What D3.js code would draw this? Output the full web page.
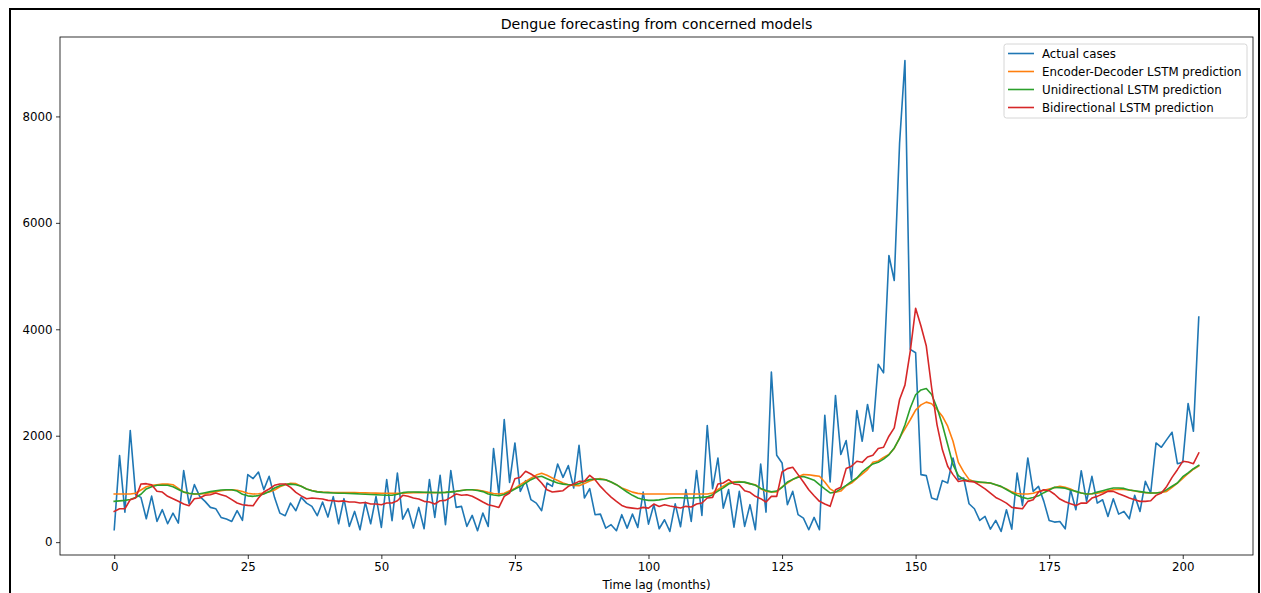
<!DOCTYPE html>
<html>
<head>
<meta charset="utf-8">
<script src="https://cdn.jsdelivr.net/npm/d3@7"></script>
<style>
  body { margin: 0; background: #fff; }
  svg { display: block; font-family: "DejaVu Sans", sans-serif; }
</style>
</head>
<body>
<svg id="chart" width="1261" height="593"></svg>
<script>
// Monthly dengue cases and the three model forecasts (index = time lag in months)
const actualCases = [
  233, 1627, 565, 2098, 892, 842, 440, 866, 390, 610,
  346, 546, 358, 1344, 723, 1081, 860, 766, 653, 629,
  465, 433, 390, 591, 408, 1269, 1194, 1318, 987, 1237,
  842, 546, 497, 734, 591, 842, 734, 672, 497, 753,
  471, 855, 346, 817, 296, 578, 233, 747, 346, 860,
  277, 1175, 403, 1300, 433, 629, 264, 653, 252, 1175,
  465, 1256, 328, 1344, 653, 672, 296, 503, 215, 546,
  296, 1758, 892, 2304, 1124, 1864, 955, 1156, 798, 734,
  591, 1111, 1049, 1469, 1218, 1439, 1017, 1821, 829, 1005,
  516, 527, 264, 328, 215, 516, 264, 527, 277, 942,
  339, 704, 252, 421, 201, 720, 290, 987, 390, 1344,
  503, 2192, 1005, 1582, 640, 988, 282, 955, 296, 704,
  233, 1469, 565, 3196, 1633, 1488, 704, 955, 516, 452,
  233, 465, 233, 2386, 1130, 2757, 1646, 1909, 1175, 2474,
  1896, 2587, 2084, 3340, 3182, 5386, 4916, 7500, 9050, 3623,
  3560, 1269, 1250, 829, 798, 1156, 1111, 1582, 1180, 1205,
  722, 628, 408, 483, 245, 408, 201, 609, 245, 1299,
  690, 1582, 954, 1048, 766, 408, 377, 389, 251, 986,
  609, 1343, 766, 1237, 734, 797, 483, 816, 527, 577,
  439, 879, 577, 1142, 923, 1864, 1783, 1927, 2065, 1475,
  1500, 2605, 2084, 4231
];

const encoderDecoderPred = [
  905, 905, 905, 905, 920, 980, 1040, 1070, 1080, 1090,
  1093, 1080, 1010, 940, 915, 905, 905, 910, 930, 950,
  965, 980, 986, 975, 950, 920, 905, 910, 925, 942,
  980, 1040, 1080, 1105, 1100, 1050, 1000, 970, 950, 940,
  936, 932, 930, 930, 930, 930, 928, 926, 924, 922,
  920, 918, 917, 917, 920, 925, 930, 930, 930, 930,
  930, 932, 935, 945, 955, 970, 986, 986, 980, 960,
  935, 915, 905, 920, 965, 1010, 1080, 1140, 1200, 1260,
  1295, 1256, 1205, 1160, 1111, 1080, 1065, 1061, 1100, 1150,
  1180, 1193, 1170, 1130, 1080, 1020, 980, 940, 917, 904,
  904, 904, 904, 904, 904, 904, 904, 904, 904, 904,
  904, 904, 924, 990, 1050, 1112, 1135, 1140, 1120, 1095,
  1080, 1005, 955, 945, 942, 1040, 1110, 1175, 1230, 1270,
  1265, 1250, 1237, 1130, 1000, 940, 960, 1060, 1110, 1200,
  1280, 1363, 1500, 1525, 1590, 1650, 1760, 1960, 2130, 2300,
  2480, 2580, 2631, 2600, 2493, 2367, 2179, 1897, 1500, 1320,
  1180, 1135, 1124, 1118, 1110, 1080, 1040, 1000, 945, 915,
  904, 904, 920, 950, 975, 1000, 1025, 1048, 1030, 1000,
  950, 925, 904, 910, 920, 940, 967, 985, 995, 990,
  980, 960, 942, 930, 923, 923, 935, 954, 1030, 1111,
  1200, 1290, 1370, 1430
];

const unidirectionalPred = [
  767, 775, 785, 800, 840, 900, 1000, 1040, 1068, 1070,
  1068, 1040, 990, 942, 920, 905, 910, 930, 950, 965,
  980, 986, 986, 960, 900, 870, 861, 875, 905, 950,
  1018, 1060, 1085, 1090, 1080, 1050, 1000, 965, 945, 935,
  930, 925, 920, 918, 915, 912, 905, 900, 895, 890,
  885, 880, 880, 900, 930, 942, 942, 940, 938, 935,
  932, 930, 935, 945, 955, 970, 986, 986, 970, 950,
  905, 885, 873, 895, 942, 1000, 1048, 1110, 1174, 1220,
  1237, 1193, 1150, 1111, 1090, 1080, 1080, 1100, 1142, 1175,
  1186, 1180, 1174, 1130, 1080, 1010, 942, 880, 829, 800,
  785, 785, 795, 810, 829, 835, 835, 830, 829, 835,
  842, 850, 892, 960, 1020, 1093, 1120, 1131, 1128, 1100,
  1068, 1010, 970, 945, 960, 1030, 1130, 1180, 1218, 1235,
  1200, 1165, 1080, 1000, 924, 940, 1000, 1068, 1140, 1206,
  1320, 1400, 1470, 1500, 1560, 1640, 1770, 1950, 2200, 2520,
  2770, 2860, 2888, 2775, 2524, 2210, 1834, 1457, 1250, 1180,
  1150, 1142, 1130, 1120, 1111, 1080, 1048, 990, 930, 880,
  841, 816, 840, 870, 930, 980, 1030, 1025, 1015, 980,
  954, 925, 905, 910, 940, 967, 995, 1017, 1017, 1010,
  980, 967, 950, 935, 925, 923, 935, 986, 1050, 1111,
  1230, 1300, 1380, 1444
];

const bidirectionalPred = [
  578, 628, 628, 798, 829, 1093, 1099, 1080, 955, 942,
  861, 817, 767, 716, 685, 817, 829, 880, 892, 924,
  892, 861, 798, 735, 704, 691, 685, 829, 942, 999,
  1068, 1093, 1093, 1030, 936, 870, 817, 829, 820, 810,
  785, 779, 767, 775, 754, 754, 735, 745, 716, 716,
  704, 735, 735, 779, 880, 861, 829, 810, 767, 754,
  716, 779, 785, 842, 905, 880, 892, 861, 810, 754,
  704, 680, 653, 860, 923, 1193, 1218, 1331, 1281, 1218,
  1111, 986, 942, 954, 967, 1048, 1092, 1142, 1142, 1256,
  1174, 1048, 942, 847, 766, 691, 653, 640, 628, 653,
  640, 716, 671, 703, 680, 660, 641, 673, 660, 716,
  735, 829, 842, 1093, 1112, 1175, 1093, 1080, 967, 936,
  861, 817, 754, 861, 861, 1319, 1382, 1407, 1269, 1131,
  986, 873, 767, 716, 673, 986, 1030, 1382, 1426, 1520,
  1500, 1600, 1633, 1758, 1783, 1991, 2148, 2681, 2951, 3591,
  4395, 4062, 3685, 2901, 2210, 1740, 1426, 1269, 1140, 1160,
  1142, 1130, 1067, 1000, 920, 840, 790, 734, 653, 640,
  628, 766, 797, 942, 986, 967, 900, 810, 760, 720,
  690, 734, 734, 828, 860, 904, 954, 954, 910, 870,
  830, 797, 766, 766, 778, 879, 923, 1048, 1218, 1362,
  1519, 1506, 1475, 1676
];

const seriesNames = [
  "Actual cases",
  "Encoder-Decoder LSTM prediction",
  "Unidirectional LSTM prediction",
  "Bidirectional LSTM prediction"
];
const seriesColors = ["#1f77b4", "#ff7f0e", "#2ca02c", "#d62728"];
const xTickValues = [0, 25, 50, 75, 100, 125, 150, 175, 200];
const yTickValues = [0, 2000, 4000, 6000, 8000];

const seriesData = [actualCases, encoderDecoderPred, unidirectionalPred, bidirectionalPred];

const svg = d3.select("#chart");
const plot = { left: 60, right: 1253, top: 37, bottom: 555 };
const labelSize = "11.8px";
const titleSize = "14.2px";

// outer figure frame
svg.append("rect")
  .attr("x", 10).attr("y", 9)
  .attr("width", 1249).attr("height", 640)
  .attr("fill", "none").attr("stroke", "#000").attr("stroke-width", 2);

// scales with 5% padding around the data range
const n = actualCases.length;
const xPad = (n - 1) * 0.05;
const x = d3.scaleLinear().domain([-xPad, n - 1 + xPad]).range([plot.left, plot.right]);
const allValues = [].concat(...seriesData);
const [lo, hi] = d3.extent(allValues);
const yPad = (hi - lo) * 0.05;
const y = d3.scaleLinear().domain([lo - yPad, hi + yPad]).range([plot.bottom, plot.top]);

svg.append("clipPath").attr("id", "plot-clip")
  .append("rect")
  .attr("x", plot.left).attr("y", plot.top)
  .attr("width", plot.right - plot.left).attr("height", plot.bottom - plot.top);

// series lines
const line = d3.line().x((d, i) => x(i)).y(d => y(d));
const linesG = svg.append("g").attr("clip-path", "url(#plot-clip)");
seriesData.forEach((vals, k) => {
  linesG.append("path")
    .datum(vals)
    .attr("d", line)
    .attr("fill", "none")
    .attr("stroke", seriesColors[k])
    .attr("stroke-width", 1.6)
    .attr("stroke-linejoin", "round")
    .attr("stroke-linecap", "square");
});

// axes
const xAxis = d3.axisBottom(x).tickValues(xTickValues).tickSize(4).tickPadding(3.5).tickFormat(d3.format("d"));
const yAxis = d3.axisLeft(y).tickValues(yTickValues).tickSize(4).tickPadding(3.5).tickFormat(d3.format("d"));

const gx = svg.append("g").attr("transform", `translate(0,${plot.bottom})`).call(xAxis);
const gy = svg.append("g").attr("transform", `translate(${plot.left},0)`).call(yAxis);
[gx, gy].forEach(g => {
  g.select(".domain").remove();
  g.selectAll(".tick line").attr("stroke", "#000").attr("stroke-width", 0.8);
  g.selectAll(".tick text").attr("fill", "#000").style("font-size", labelSize)
    .style("font-family", "'DejaVu Sans', sans-serif");
});

// axes spines
svg.append("rect")
  .attr("x", plot.left).attr("y", plot.top)
  .attr("width", plot.right - plot.left).attr("height", plot.bottom - plot.top)
  .attr("fill", "none").attr("stroke", "#000").attr("stroke-width", 0.8);

// title and axis label
svg.append("text")
  .attr("x", (plot.left + plot.right) / 2).attr("y", 29)
  .attr("text-anchor", "middle")
  .style("font-size", titleSize).attr("fill", "#000")
  .text("Dengue forecasting from concerned models");

svg.append("text")
  .attr("x", (plot.left + plot.right) / 2).attr("y", 588.5)
  .attr("text-anchor", "middle")
  .style("font-size", labelSize).attr("fill", "#000")
  .text("Time lag (months)");

// legend
const legend = svg.append("g").attr("transform", "translate(1004,44)");
legend.append("rect")
  .attr("x", 0).attr("y", 0).attr("width", 243).attr("height", 74)
  .attr("rx", 2.5).attr("ry", 2.5)
  .attr("fill", "#fff").attr("fill-opacity", 0.8)
  .attr("stroke", "#ccc").attr("stroke-width", 0.8);
seriesNames.forEach((name, k) => {
  const cy = 9.5 + k * 18;
  legend.append("line")
    .attr("x1", 4).attr("x2", 30).attr("y1", cy).attr("y2", cy)
    .attr("stroke", seriesColors[k]).attr("stroke-width", 1.6);
  legend.append("text")
    .attr("x", 38).attr("y", cy).attr("dy", "0.35em")
    .style("font-size", labelSize).attr("fill", "#000")
    .text(name);
});
</script>
</body>
</html>
